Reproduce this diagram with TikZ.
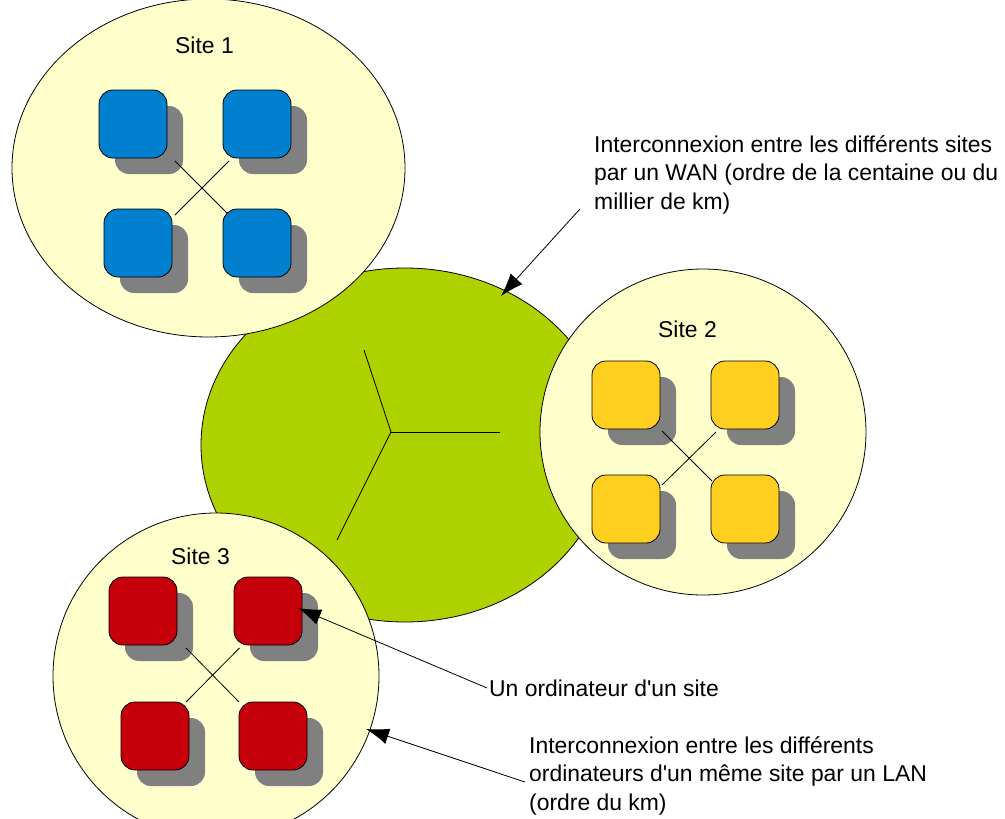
\documentclass[tikz,border=0pt]{standalone}
\usepackage{fontspec}
\setmainfont{Liberation Sans}[Ligatures=TeXOff]
\usetikzlibrary{arrows.meta}
\definecolor{siteyellow}{HTML}{FFFFCC}
\definecolor{wangreen}{HTML}{AED100}
\definecolor{pcblue}{HTML}{0080CF}
\definecolor{pcyellow}{HTML}{FFCF1F}
\definecolor{pcred}{HTML}{C5000B}
\definecolor{shadowgrey}{HTML}{808080}
\tikzset{
  x=1pt,y=-1pt,
  pcbox/.style={draw=black,line width=0.8pt,minimum width=68pt,minimum height=68pt,inner sep=0pt,outer sep=0pt,rounded corners=14pt,anchor=north west},
  pcshadow/.style={fill=shadowgrey,minimum width=68pt,minimum height=68pt,inner sep=0pt,outer sep=0pt,rounded corners=14pt,anchor=north west},
  zone/.style={draw=black,line width=0.8pt,fill=#1},
  link/.style={draw=black,line width=0.8pt},
  callout/.style={draw=black,line width=0.8pt,-{Latex[length=23pt,width=16pt]}},
  lbl/.style={font=\fontsize{22.9}{28.8}\selectfont,align=left,inner sep=0pt},
}
\begin{document}
\begin{tikzpicture}
\useasboundingbox[fill=white] (0,0) rectangle (1005,819);
\begin{scope}
\clip (0,0) rectangle (1005,819);
% WAN
\filldraw[zone=wangreen] (405,445) ellipse [x radius=204,y radius=177];
\draw[link] (391,432) -- (364,350);
\draw[link] (391,432) -- (500,432);
\draw[link] (391,432) -- (337,540);
% Sites
\filldraw[zone=siteyellow] (208.5,168) ellipse [x radius=196.5,y radius=169];
\filldraw[zone=siteyellow] (703,432) ellipse [x radius=163,y radius=163];
\filldraw[zone=siteyellow] (216,676) ellipse [x radius=163,y radius=163];
\end{scope}
% shadows and computers
\foreach \x/\y in {99/90,223/90,104/209,223/209,592/361,711/361,592/475,711/475,109/577,234/577,121/702,239/702}
  \node[pcshadow] at (\x+16,\y+16) {};
\node[pcbox,fill=pcblue] (b1) at (99,90) {};
\node[pcbox,fill=pcblue] (b2) at (223,90) {};
\node[pcbox,fill=pcblue] (b3) at (104,209) {};
\node[pcbox,fill=pcblue] (b4) at (223,209) {};
\node[pcbox,fill=pcyellow] (y1) at (592,361) {};
\node[pcbox,fill=pcyellow] (y2) at (711,361) {};
\node[pcbox,fill=pcyellow] (y3) at (592,475) {};
\node[pcbox,fill=pcyellow] (y4) at (711,475) {};
\node[pcbox,fill=pcred] (r1) at (109,577) {};
\node[pcbox,fill=pcred] (r2) at (234,577) {};
\node[pcbox,fill=pcred] (r3) at (121,702) {};
\node[pcbox,fill=pcred] (r4) at (239,702) {};
% LAN links
\draw[link] ([shift={(8,3)}]b1.south east) -- ([shift={(4,4)}]b4.north west);
\draw[link] ([shift={(6,3)}]b2.south west) -- ([shift={(3,6)}]b3.north east);
\draw[link] ([shift={(2,2)}]y1.south east) -- ([shift={(1,6)}]y4.north west);
\draw[link] ([shift={(5,3)}]y2.south west) -- ([shift={(2,10)}]y3.north east);
\draw[link] ([shift={(9,3)}]r1.south east) -- (r4.north west);
\draw[link] ([shift={(5.5,3)}]r2.south west) -- ([shift={(-3,0)}]r3.north east);
% labels
\node[lbl,anchor=west] (s1) at (175,45) {Site 1};
\node[lbl,anchor=west] (s2) at (658,329) {Site 2};
\node[lbl,anchor=west] (s3) at (171,556) {Site 3};
\node[lbl,anchor=north west] (wan) at (594,135) {Interconnexion entre les différents sites\\par un WAN (ordre de la centaine ou du\\millier de km)};
\node[lbl,anchor=west] (pc) at (489,688) {Un ordinateur d'un site};
\node[lbl,anchor=north west] (lan) at (529,736) {Interconnexion entre les différents\\ordinateurs d'un même site par un LAN\\(ordre du km)};
% callouts
\coordinate (wanpt) at (501,296);
\coordinate (pcpt) at (298,608);
\coordinate (lanpt) at (366,729);
\draw[callout] ([shift={(-14,74)}]wan.north west) -- (wanpt);
\draw[callout] ([shift={(-2,0)}]pc.west) -- (pcpt);
\draw[callout] ([shift={(-4,46)}]lan.north west) -- (lanpt);
\end{tikzpicture}
\end{document}
